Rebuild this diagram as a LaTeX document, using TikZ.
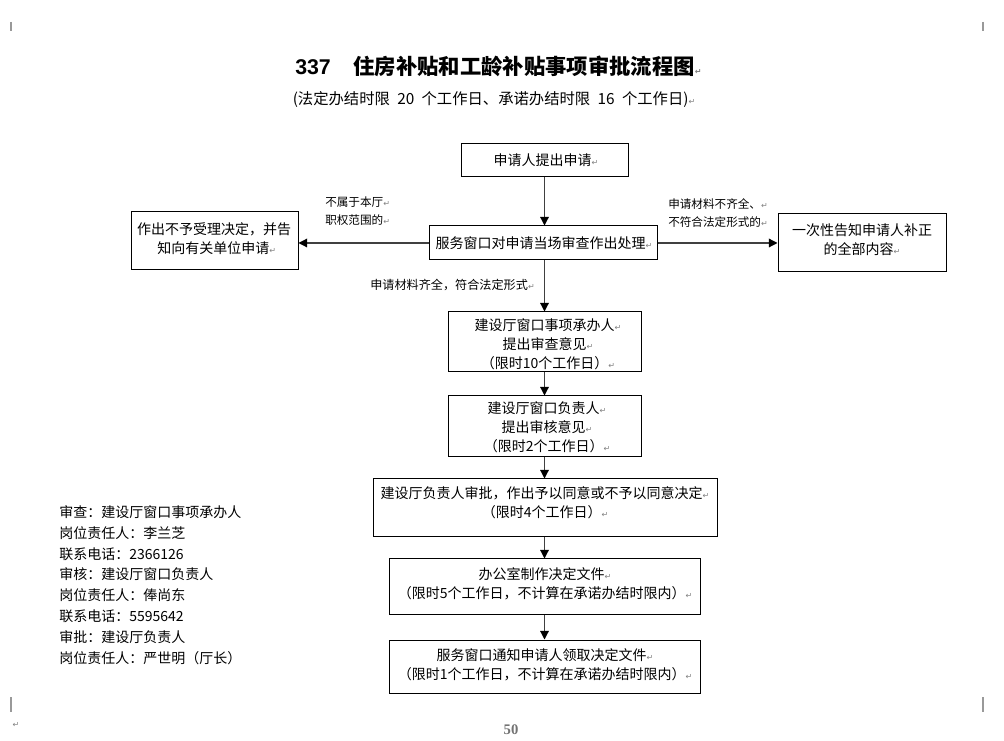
\documentclass[tikz,border=0pt]{standalone}
\usepackage{fontspec}
\setmainfont{Noto Sans CJK SC}
\newfontfamily\dv{DejaVu Sans}
\newfontfamily\lsans{Liberation Sans}
\newfontfamily\lserif{Liberation Serif}
\usetikzlibrary{arrows.meta}
\newcommand\ret{{\dv\color{gray}\fontsize{6}{6}\selectfont ↵}}
\newcommand\wsp{\hspace{5.5pt}}
\begin{document}
\begin{tikzpicture}[x=0.75pt,y=-0.75pt,
  box/.style={draw=black,line width=0.75pt,inner sep=0pt},
  txt/.style={inner sep=0pt,align=center,font=\fontsize{10.5}{14.25}\selectfont},
  elab/.style={inner sep=0pt,align=left,anchor=west,font=\fontsize{8.7}{13.5}\selectfont},
  arr/.style={draw=black!75,line width=0.9pt,-{Triangle[length=6.5pt,width=6.5pt,color=black]}},
  cornermark/.style={draw=black!40,line width=0.8pt}]
\useasboundingbox (0,0) rectangle (1004,741);
% corner marks
\coordinate (tl1) at (11,22); \coordinate (tl2) at (11,31);
\coordinate (tr1) at (983,22); \coordinate (tr2) at (983,31);
\coordinate (bl1) at (11,697); \coordinate (bl2) at (11,712);
\coordinate (br1) at (983,697); \coordinate (br2) at (983,712);
\draw[cornermark] (tl1)--(tl2); \draw[cornermark] (tr1)--(tr2);
\draw[cornermark] (bl1)--(bl2); \draw[cornermark] (br1)--(br2);
\node[inner sep=0pt] (pmark) at (16,725) {\ret};
% title
\node[inner sep=0pt,anchor=west] (title) at (295,66)
  {\fontsize{16}{16}\selectfont\bfseries {\lsans 337}\hspace{17pt}住房补贴和工龄补贴事项审批流程图\ret};
\node[inner sep=0pt] (sub) at (494,100)
  {\fontsize{11.5}{12}\selectfont (法定办结时限\wsp 20\wsp 个工作日、承诺办结时限\wsp 16\wsp 个工作日)\ret};
% boxes
\node[box,minimum width=125.25pt,minimum height=24.75pt] (b1) at (544.5,160.5) {};
\node[box,minimum width=171pt,minimum height=25.5pt] (b2) at (543,243) {};
\node[box,minimum width=125.25pt,minimum height=43.5pt] (bl) at (214.5,241) {};
\node[box,minimum width=126pt,minimum height=43.5pt] (br) at (862,243) {};
\node[box,minimum width=144.75pt,minimum height=45pt] (b3) at (544.5,342) {};
\node[box,minimum width=144.75pt,minimum height=45.75pt] (b4) at (544.5,426.5) {};
\node[box,minimum width=258pt,minimum height=43.5pt] (b5) at (545,508) {};
\node[box,minimum width=233.25pt,minimum height=42pt] (b6) at (544.5,587) {};
\node[box,minimum width=233.25pt,minimum height=39.75pt] (b7) at (544.5,666.5) {};
% box texts
\node[txt] (t1) at (546,160) {申请人提出申请\ret};
\node[txt] (t2) at (544,243) {服务窗口对申请当场审查作出处理\ret};
\node[txt] (tl) at (214,239) {作出不予受理决定，并告\\\hspace*{4pt}知向有关单位申请\ret};
\node[txt] (tr) at (862,239.5) {一次性告知申请人补正\\的全部内容\ret};
\node[txt] (t3) at (548,344) {建设厅窗口事项承办人\ret\\提出审查意见\ret\\（限时10个工作日）\ret};
\node[txt] (t4) at (547,427.5) {建设厅窗口负责人\ret\\提出审核意见\ret\\（限时2个工作日）\ret};
\node[txt] (t5) at (545,502.5) {建设厅负责人审批，作出予以同意或不予以同意决定\ret\\（限时4个工作日）\ret};
\node[txt] (t6) at (545,583.5) {办公室制作决定文件\ret\\（限时5个工作日，不计算在承诺办结时限内）\ret};
\node[txt] (t7) at (545,665) {服务窗口通知申请人领取决定文件\ret\\（限时1个工作日，不计算在承诺办结时限内）\ret};
% edge labels
\node[elab] (lab1) at (325,211) {不属于本厅\ret\\职权范围的\ret};
\node[elab] (lab2) at (668,213) {申请材料不齐全、\ret\\不符合法定形式的\ret};
\node[elab,font=\fontsize{9.1}{12}\selectfont] (lab3) at (370,285) {申请材料齐全，符合法定形式\ret};
% connectors
\draw[arr] (b1.south) -- (b2.north -| b1.south);
\draw[arr] (b2.west) -- (bl.east |- b2.west);
\draw[arr] (b2.east) -- (br.west |- b2.east);
\draw[arr] (b2.south -| b3.north) -- (b3.north);
\draw[arr] (b3.south) -- (b4.north);
\draw[arr] (b4.south) -- (b5.north -| b4.south);
\draw[arr] (b5.south -| b6.north) -- (b6.north);
\draw[arr] (b6.south) -- (b7.north);
% legend
\node[inner sep=0pt,align=left,anchor=west,font=\fontsize{10.5}{15.6}\selectfont] (legend) at (59,585)
  {审查：建设厅窗口事项承办人\\岗位责任人：李兰芝\\联系电话：2366126\\审核：建设厅窗口负责人\\岗位责任人：俸尚东\\联系电话：5595642\\审批：建设厅负责人\\岗位责任人：严世明（厅长）};
% page number
\node[inner sep=0pt,text=black!55] (page) at (511,730) {\lserif\bfseries\fontsize{11}{11}\selectfont 50};
\end{tikzpicture}
\end{document}
